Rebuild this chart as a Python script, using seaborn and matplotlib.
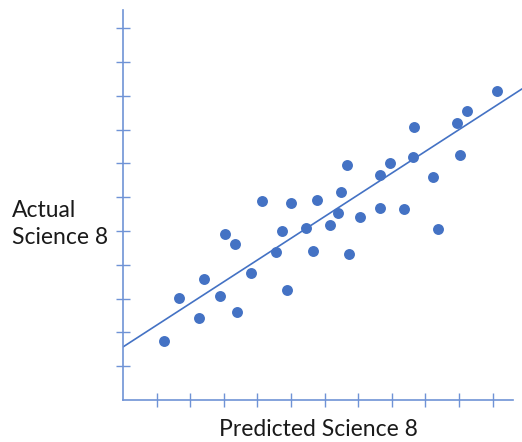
import matplotlib
matplotlib.use('Agg')
from matplotlib import pyplot as plt
import seaborn as sb
import pandas as pd

sb.set_style('white')
plt.rcParams['font.family'] = ['Lato', 'DejaVu Sans']

# in tick units
predicted = [1.22, 1.68, 2.27, 2.40, 2.90, 3.04, 3.33, 3.40, 3.81, 4.14, 4.55, 4.73,
             4.88, 5.01, 5.44, 5.66, 5.78, 6.16, 6.39, 6.49, 6.67, 6.74, 7.06, 7.64,
             7.64, 7.95, 8.35, 8.62, 8.67, 9.23, 9.38, 9.93, 10.02, 10.25, 11.12]
actual = [1.74, 3.02, 2.42, 3.59, 3.09, 4.91, 4.62, 2.59, 3.75, 5.89, 4.37, 5.01,
          3.26, 5.82, 5.10, 4.40, 5.92, 5.18, 5.54, 6.16, 6.95, 4.31, 5.41, 6.65,
          5.69, 7.01, 5.64, 7.20, 8.07, 6.60, 5.07, 8.20, 7.24, 8.54, 9.15]
ticks = list(range(1, 12))
# trendline as drawn in the picture (steeper than a refit of the read points)
trend_intercept = 1.57
trend_slope = 0.643
df = pd.DataFrame({'Predicted Science 8': predicted, 'Actual Science 8': actual})

blue = '#4472C4'
axis_blue = '#6F93D6'

fig = plt.figure(figsize=(5.22, 4.42), dpi=100)
ax = fig.add_axes([123/522, 42/442, 399/522, 390/442])
sb.scatterplot(data=df, x='Predicted Science 8', y='Actual Science 8', ax=ax,
               s=62, color=blue, linewidth=0, alpha=1, zorder=3)
ax.axline((0, trend_intercept), slope=trend_slope, color=blue, lw=1.2, zorder=2)
ax.set_xlim(0, 11.875)
ax.set_ylim(0, 11.54)

ax.set_xticks(ticks)
ax.set_yticks(ticks)
ax.set_xticklabels([])
ax.set_yticklabels([])
ax.tick_params(direction='inout', length=9.5, width=1, color=axis_blue,
               bottom=True, left=True)
for s in ['top', 'right']:
    ax.spines[s].set_visible(False)
for s in ['bottom', 'left']:
    ax.spines[s].set_color(axis_blue)
    ax.spines[s].set_linewidth(1.2)
ax.spines['bottom'].set_bounds(0, 11.61)
ax.set_xlabel('')
ax.set_ylabel('')

fig.text(318/522, 1 - 430/442, 'Predicted Science 8', ha='center', va='center',
         fontsize=16.5, color='#1a1a1a')
fig.text(12/522, 1 - 224/442, 'Actual\nScience 8', ha='left', va='center',
         fontsize=16.5, color='#1a1a1a', linespacing=1.35)

fig.savefig('out.png', dpi=100)
